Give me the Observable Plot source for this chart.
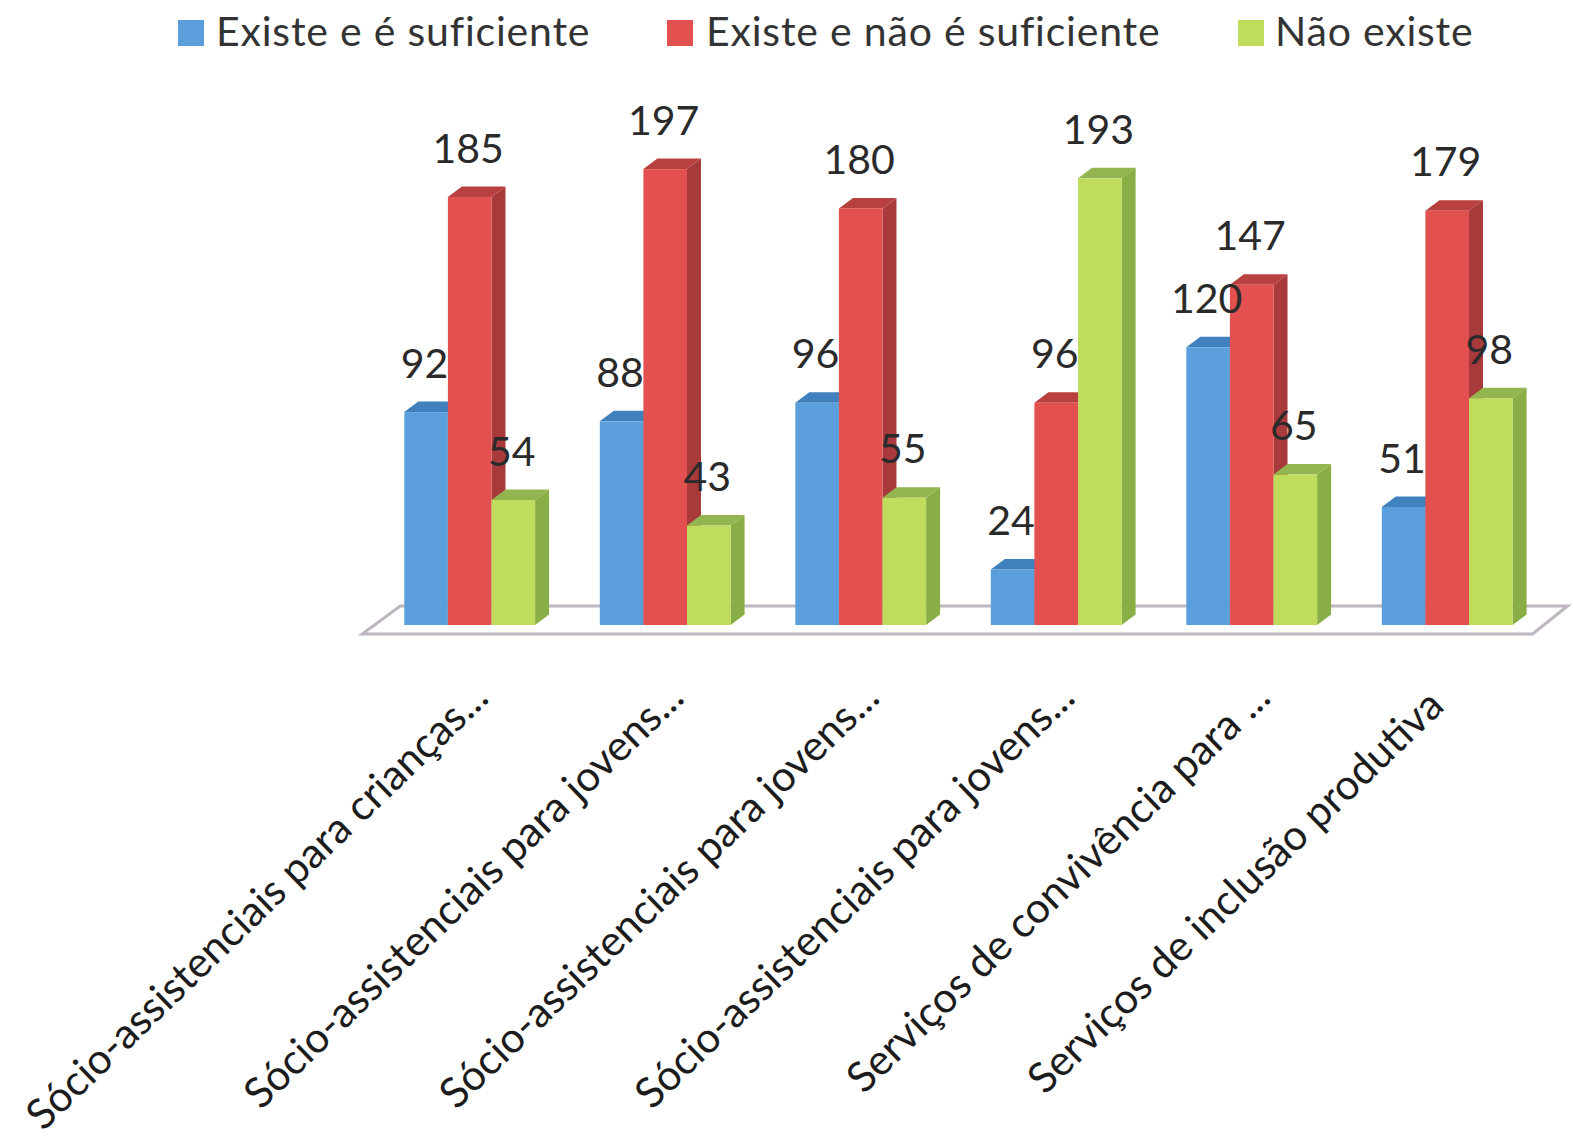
<!DOCTYPE html>
<html lang="pt">
<head>
<meta charset="utf-8">
<title>Serviços sócio-assistenciais</title>
<script src="https://cdn.jsdelivr.net/npm/d3@7"></script>
<script src="https://cdn.jsdelivr.net/npm/@observablehq/plot@0.6"></script>
<style>
  html, body { margin: 0; background: #fff; }
  svg { display: block; }
  #legend {
    position: relative; height: 62px; font-family: Lato, sans-serif; font-size: 41px; letter-spacing: 0.8px; color: #333;
  }
  #legend i { position: absolute; top: 20px; width: 26px; height: 26px; }
  #legend span { position: absolute; top: 8px; line-height: 46px; white-space: nowrap; }
</style>
</head>
<body>
<div id="legend"></div>
<div id="chart"></div>
<script>
const series = ["Existe e é suficiente", "Existe e não é suficiente", "Não existe"];
const frontColors = ["#5a9fdc", "#e2514f", "#c0dc5c"];
const sideColors = ["#3a75ad", "#a93a3c", "#8aae46"];
const topColors = ["#3f80bd", "#b8403f", "#92b550"];

const categories = [
  "Sócio-assistenciais para crianças...",
  "Sócio-assistenciais para jovens...",
  "Sócio-assistenciais para jovens...",
  "Sócio-assistenciais para jovens...",
  "Serviços de convivência para ...",
  "Serviços de inclusão produtiva"
];
const suficiente = [92, 88, 96, 24, 120, 51];
const insuficiente = [185, 197, 180, 96, 147, 179];
const naoExiste = [54, 43, 55, 193, 65, 98];

const legendSwatchX = [178, 667, 1238];
const legendTextX = [216, 706, 1275];

const rows = categories.flatMap((_, group) => [suficiente, insuficiente, naoExiste].map((values, s) => ({
  group,
  serie: series[s],
  value: values[group]
})));

// Depth of the extruded faces, in pixels.
const depthX = 14;
const depthY = 10.5;

const bandwidthOf = (scale) => (typeof scale.bandwidth === "function" ? scale.bandwidth() : scale.bandwidth);

// Draws a bar's side and top faces behind its front rectangle.
function extrude(sideColor, topColor, data) {
  return (index, scales, values, dimensions, context, next) => {
    const g = next(index, scales, values, dimensions, context);
    const sel = d3.select(g);
    const base = scales.y(0);
    const w = bandwidthOf(scales.x);
    for (const i of index) {
      const x0 = scales.x(data[i].serie);
      const x1 = x0 + w;
      const top = scales.y(data[i].value);
      sel.insert("polygon", ":first-child")
        .attr("fill", topColor)
        .attr("points", [[x0, top], [x0 + depthX, top - depthY], [x1 + depthX, top - depthY], [x1, top]].join(" "));
      sel.insert("polygon", ":first-child")
        .attr("fill", sideColor)
        .attr("points", [[x1, base], [x1 + depthX, base - depthY], [x1 + depthX, top - depthY], [x1, top]].join(" "));
    }
    return g;
  };
}

const barMarks = series.map((serie, s) => {
  const data = rows.filter((d) => d.serie === serie);
  return Plot.barY(data, {
    fx: "group",
    x: "serie",
    y: "value",
    fill: frontColors[s],
    render: extrude(sideColors[s], topColors[s], data)
  });
});

// The floor plate that the bars stand on.
const floor = Plot.frame({
  facet: "super",
  render(index, scales, values, dimensions, context) {
    const g = d3.select(context.document.createElementNS("http://www.w3.org/2000/svg", "g")).attr("aria-label", "floor");
    const left = scales.fx(0);
    const right = scales.fx(categories.length - 1) + bandwidthOf(scales.fx);
    const base = scales.y(0);
    g.append("polygon")
      .attr("fill", "#fff")
      .attr("stroke", "#bdb6c0")
      .attr("stroke-width", 3)
      .attr("points", [[left - 42, base + 9], [left - 4, base - 19], [right + 55, base - 19], [right + 20, base + 9]].join(" "));
    return g.node();
  }
});

// Category labels; the last one has no ellipsis and ends a little further out.
const labelAxis = (ticks, dx, tickPadding) => Plot.axisFx({
  anchor: "bottom",
  ticks,
  tickSize: 0,
  tickPadding,
  tickRotate: -44,
  tickFormat: (i) => categories[i],
  fontSize: 42,
  dx,
  fill: "#1c1c1c",
  label: null
});

const plot = Plot.plot({
  width: 1573,
  height: 1081,
  marginTop: 40,
  marginBottom: 518,
  marginLeft: 404.3,
  marginRight: 60.4,
  style: { fontFamily: "Lato, sans-serif", background: "#fff", overflow: "visible" },
  fx: { domain: d3.range(categories.length), padding: 0.331, round: false, label: null },
  x: { domain: series, padding: 0, round: false, axis: null, label: null },
  y: { domain: [0, 226], axis: null },
  marks: [
    floor,
    ...barMarks,
    Plot.text(rows, {
      fx: "group",
      x: "serie",
      y: "value",
      text: (d) => String(d.value),
      dx: -2,
      dy: -48,
      fontSize: 41,
      fill: "#2a2a2a"
    }),
    labelAxis(d3.range(categories.length - 1), 11, 65),
    labelAxis([categories.length - 1], -11, 73)
  ]
});

// The floor sits behind every bar.
const floorNode = plot.querySelector('[aria-label="floor"]');
plot.insertBefore(floorNode, plot.querySelector("g"));
document.getElementById("chart").append(plot);

// Legend row above the plot.
const legend = d3.select("#legend");
series.forEach((serie, s) => {
  legend.append("i").style("left", legendSwatchX[s] + "px").style("background", frontColors[s]);
  legend.append("span").style("left", legendTextX[s] + "px").text(serie);
});
</script>
</body>
</html>
